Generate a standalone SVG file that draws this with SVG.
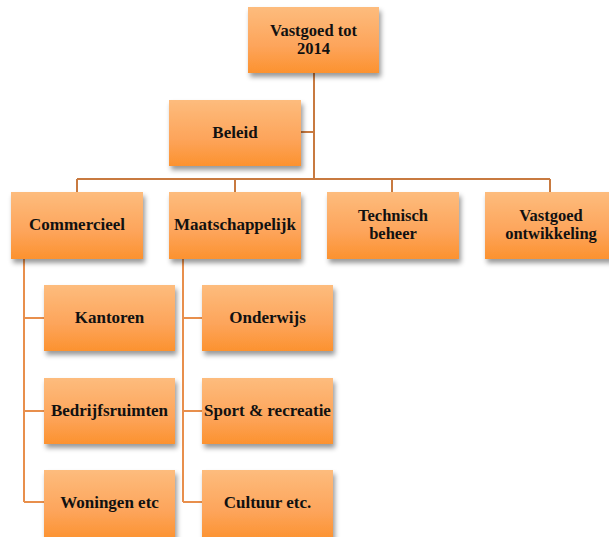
<svg xmlns="http://www.w3.org/2000/svg" width="609" height="537" viewBox="0 0 609 537">
<defs>
<linearGradient id="g" x1="0" y1="0" x2="0" y2="1">
<stop offset="0" stop-color="#fdbc7d"/>
<stop offset="0.6" stop-color="#fda45a"/>
<stop offset="1" stop-color="#fc922f"/>
</linearGradient>
<filter id="sh" x="-10%" y="-10%" width="130%" height="140%">
<feDropShadow dx="2" dy="4" stdDeviation="2.5" flood-color="#000" flood-opacity="0.4"/>
</filter>
<style>
.box{fill:url(#g);filter:url(#sh)}
.t{font-family:"Liberation Serif","Times New Roman",serif;font-weight:bold;font-size:17px;fill:#111;text-anchor:middle}
.t2{font-size:16.5px}
.c1{fill:none;stroke:#c87a40;stroke-width:2}
.c2{fill:none;stroke:#e88f4c;stroke-width:2}
</style>
</defs>
<g id="connectors">
<path class="c1" d="M314 73V179M314 132H301M77 179H550M77 179V192M235 179V192M392 179V192M550 179V192"/>
<path class="c2" d="M24 259V502M24 318H44M24 411H44M24 502H44"/>
<path class="c2" d="M183 259V502M183 318H202M183 411H202M183 502H202"/>
</g>
<g id="n-top"><rect class="box" x="248" y="7" width="131" height="66"/><text class="t t2" x="313.5" y="36">Vastgoed tot</text><text class="t t2" x="313.5" y="54">2014</text></g>
<g id="n-beleid"><rect class="box" x="169" y="100" width="132" height="66"/><text class="t" x="235" y="138">Beleid</text></g>
<g id="n-commercieel"><rect class="box" x="11" y="192" width="132" height="67"/><text class="t" x="77" y="230">Commercieel</text></g>
<g id="n-maatschappelijk"><rect class="box" x="169" y="192" width="132" height="67"/><text class="t" x="235" y="230">Maatschappelijk</text></g>
<g id="n-technisch"><rect class="box" x="327" y="192" width="132" height="67"/><text class="t t2" x="393" y="221">Technisch</text><text class="t t2" x="393" y="239">beheer</text></g>
<g id="n-ontwikkeling"><rect class="box" x="485" y="192" width="132" height="67"/><text class="t t2" x="551" y="221">Vastgoed</text><text class="t t2" x="551" y="239">ontwikkeling</text></g>
<g id="n-kantoren"><rect class="box" x="44" y="285" width="131" height="66"/><text class="t" x="109.5" y="323">Kantoren</text></g>
<g id="n-bedrijfsruimten"><rect class="box" x="44" y="378" width="131" height="66"/><text class="t" x="109.5" y="416">Bedrijfsruimten</text></g>
<g id="n-woningen"><rect class="box" x="44" y="470" width="131" height="70"/><text class="t" x="109.5" y="508">Woningen etc</text></g>
<g id="n-onderwijs"><rect class="box" x="202" y="285" width="131" height="66"/><text class="t" x="267.5" y="323">Onderwijs</text></g>
<g id="n-sport"><rect class="box" x="202" y="378" width="131" height="66"/><text class="t" x="267.5" y="416">Sport &amp; recreatie</text></g>
<g id="n-cultuur"><rect class="box" x="202" y="470" width="131" height="70"/><text class="t" x="267.5" y="508">Cultuur etc.</text></g>
</svg>
